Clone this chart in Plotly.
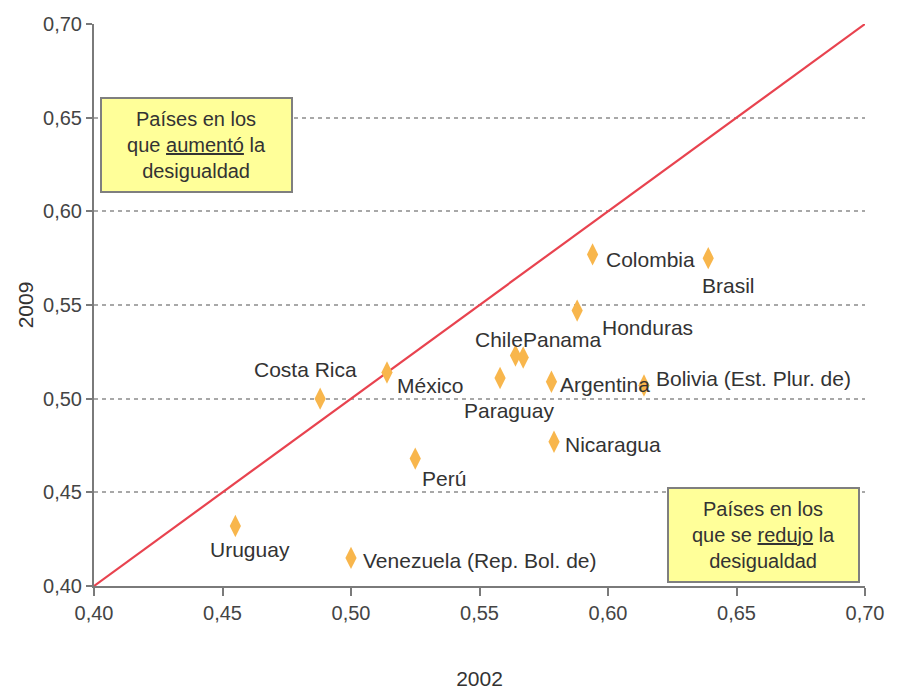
import plotly.graph_objects as go

# Gini coefficients, 2002 vs 2009
countries = ['Colombia', 'Brasil', 'Honduras', 'Chile', 'Panama', 'Paraguay', 'Argentina',
             'Bolivia (Est. Plur. de)', 'Nicaragua', 'Costa Rica', 'México', 'Perú',
             'Uruguay', 'Venezuela (Rep. Bol. de)']
gini_2002 = [0.594, 0.639, 0.588, 0.564, 0.567, 0.558, 0.578, 0.614, 0.579, 0.488, 0.514, 0.525, 0.455, 0.500]
gini_2009 = [0.577, 0.575, 0.547, 0.523, 0.522, 0.511, 0.509, 0.507, 0.477, 0.500, 0.514, 0.468, 0.432, 0.415]

ticks = [0.40, 0.45, 0.50, 0.55, 0.60, 0.65, 0.70]

# label placement (anchor, xshift, yshift) per country
label_pos = {
    'Colombia': ('left', 12, -5),
    'Brasil': ('center', 20, -27),
    'Honduras': ('left', 24, -17),
    'Chile': ('right', 9, 16),
    'Panama': ('left', -1, 18),
    'Paraguay': ('center', 9, -32),
    'Argentina': ('left', 8, -3),
    'Bolivia (Est. Plur. de)': ('left', 11, 7),
    'Nicaragua': ('left', 10, -3),
    'Costa Rica': ('center', -15, 29),
    'México': ('left', 9, -13),
    'Perú': ('left', 6, -20),
    'Uruguay': ('center', 15, -23),
    'Venezuela (Rep. Bol. de)': ('left', 11, -3),
}

fig = go.Figure()

fig.add_trace(go.Scatter(
    x=[0.40, 0.70], y=[0.40, 0.70], mode='lines',
    line=dict(color='#e8434f', width=2.2), showlegend=False, hoverinfo='skip'
))

fig.add_trace(go.Scatter(
    x=gini_2002, y=gini_2009, mode='markers', text=countries,
    marker=dict(symbol='diamond-tall', size=16, color='#f8b64c'),
    showlegend=False
))

for c, gx, gy in zip(countries, gini_2002, gini_2009):
    anchor, dx, dy = label_pos[c]
    fig.add_annotation(x=gx, y=gy, text=c, showarrow=False, xanchor=anchor, yanchor='middle',
                       xshift=dx, yshift=dy, borderpad=0, font=dict(size=21, color='#333333'))

box_style = dict(xref='paper', yref='paper', showarrow=False, bgcolor='#ffff99',
                 bordercolor='#7f7f7f', borderwidth=2, borderpad=2,
                 width=185, height=88, xanchor='center', yanchor='middle',
                 font=dict(size=20, color='#333333'), align='center')
fig.add_annotation(x=0.133, y=0.785,
                   text='Países en los<br>que <u>aumentó</u> la<br>desigualdad', **box_style)
fig.add_annotation(x=0.869, y=0.0907,
                   text='Países en los<br>que se <u>redujo</u> la<br>desigualdad', **box_style)

axis_common = dict(
    range=[0.40, 0.70], tickvals=ticks, tickformat='.2f',
    showline=True, linecolor='#7a7a7a', linewidth=2,
    ticks='outside', tickcolor='#7a7a7a', tickwidth=2,
    tickfont=dict(size=20, color='#444444'), zeroline=False, automargin=False,
)
fig.update_xaxes(**axis_common, ticklen=8, showgrid=False,
                 title=dict(text='2002', font=dict(size=21, color='#333333'), standoff=48))
fig.update_yaxes(**axis_common, ticklen=6, showgrid=True, gridcolor='#a8a8a8',
                 griddash='4px,4px', gridwidth=1.5,
                 title=dict(text='2009', font=dict(size=21, color='#333333'), standoff=4))

# page body adds an 8px offset, so margins are trimmed by that much
fig.update_layout(
    width=897, height=693,
    margin=dict(l=86, r=40, t=16, b=115),
    paper_bgcolor='white', plot_bgcolor='white',
    font=dict(family='Liberation Sans, Arial, sans-serif'),
    separators=', ',
)

fig.write_html('out.html')
